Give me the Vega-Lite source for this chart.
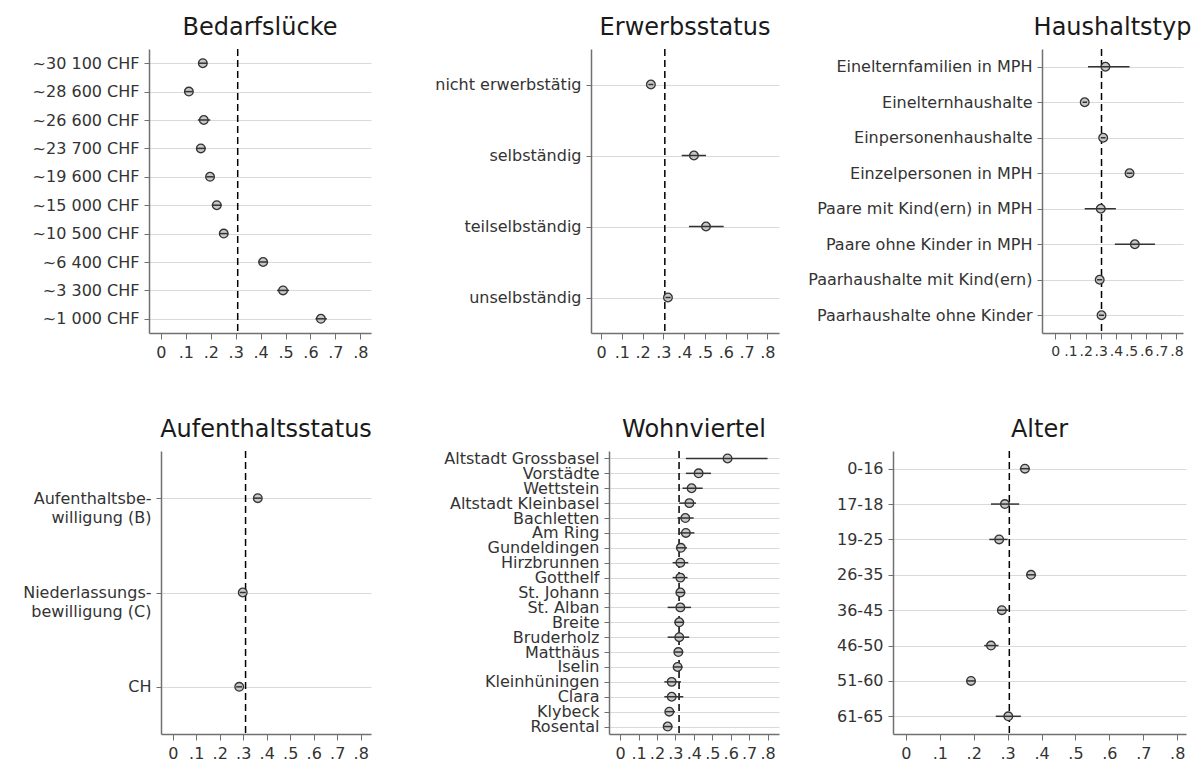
{
  "$schema": "https://vega.github.io/schema/vega-lite/v6.json",
  "background": "white",
  "padding": {"left": 22, "top": 16, "right": 0, "bottom": 0},
  "datasets": {
    "bedarf": [
      {"cat": "~30 100 CHF", "est": 0.168, "lo": 0.15, "hi": 0.186},
      {"cat": "~28 600 CHF", "est": 0.112, "lo": 0.096, "hi": 0.128},
      {"cat": "~26 600 CHF", "est": 0.172, "lo": 0.148, "hi": 0.198},
      {"cat": "~23 700 CHF", "est": 0.16, "lo": 0.142, "hi": 0.18},
      {"cat": "~19 600 CHF", "est": 0.197, "lo": 0.182, "hi": 0.212},
      {"cat": "~15 000 CHF", "est": 0.224, "lo": 0.204, "hi": 0.244},
      {"cat": "~10 500 CHF", "est": 0.252, "lo": 0.236, "hi": 0.27},
      {"cat": "~6 400 CHF", "est": 0.41, "lo": 0.392, "hi": 0.43},
      {"cat": "~3 300 CHF", "est": 0.49, "lo": 0.466, "hi": 0.514},
      {"cat": "~1 000 CHF", "est": 0.642, "lo": 0.62, "hi": 0.666}
    ],
    "erwerb": [
      {"cat": "nicht erwerbstätig", "est": 0.24, "lo": 0.228, "hi": 0.252},
      {"cat": "selbständig", "est": 0.447, "lo": 0.388, "hi": 0.505},
      {"cat": "teilselbständig", "est": 0.505, "lo": 0.423, "hi": 0.59},
      {"cat": "unselbständig", "est": 0.322, "lo": 0.31, "hi": 0.335}
    ],
    "haushalt": [
      {"cat": "Einelternfamilien in MPH", "est": 0.331, "lo": 0.216, "hi": 0.49},
      {"cat": "Einelternhaushalte", "est": 0.194, "lo": 0.18, "hi": 0.21},
      {"cat": "Einpersonenhaushalte", "est": 0.316, "lo": 0.3, "hi": 0.332},
      {"cat": "Einzelpersonen in MPH", "est": 0.49, "lo": 0.47, "hi": 0.51},
      {"cat": "Paare mit Kind(ern) in MPH", "est": 0.3, "lo": 0.194, "hi": 0.4},
      {"cat": "Paare ohne Kinder in MPH", "est": 0.525, "lo": 0.393, "hi": 0.658},
      {"cat": "Paarhaushalte mit Kind(ern)", "est": 0.293, "lo": 0.275, "hi": 0.31},
      {"cat": "Paarhaushalte ohne Kinder", "est": 0.305, "lo": 0.287, "hi": 0.322}
    ],
    "aufenthalt": [
      {"cat": "Aufenthaltsbewilligung (B)", "est": 0.362, "lo": 0.345, "hi": 0.378},
      {"cat": "Niederlassungsbewilligung (C)", "est": 0.298, "lo": 0.285, "hi": 0.311},
      {"cat": "CH", "est": 0.283, "lo": 0.27, "hi": 0.295}
    ],
    "wohn": [
      {"cat": "Altstadt Grossbasel", "est": 0.583, "lo": 0.357, "hi": 0.8},
      {"cat": "Vorstädte", "est": 0.426, "lo": 0.357, "hi": 0.493},
      {"cat": "Wettstein", "est": 0.388, "lo": 0.339, "hi": 0.448},
      {"cat": "Altstadt Kleinbasel", "est": 0.376, "lo": 0.321, "hi": 0.412},
      {"cat": "Bachletten", "est": 0.354, "lo": 0.312, "hi": 0.399},
      {"cat": "Am Ring", "est": 0.357, "lo": 0.321, "hi": 0.403},
      {"cat": "Gundeldingen", "est": 0.33, "lo": 0.303, "hi": 0.363},
      {"cat": "Hirzbrunnen", "est": 0.327, "lo": 0.285, "hi": 0.37},
      {"cat": "Gotthelf", "est": 0.327, "lo": 0.285, "hi": 0.366},
      {"cat": "St. Johann", "est": 0.327, "lo": 0.303, "hi": 0.354},
      {"cat": "St. Alban", "est": 0.327, "lo": 0.258, "hi": 0.385},
      {"cat": "Breite", "est": 0.321, "lo": 0.294, "hi": 0.348},
      {"cat": "Bruderholz", "est": 0.321, "lo": 0.258, "hi": 0.375},
      {"cat": "Matthäus", "est": 0.316, "lo": 0.294, "hi": 0.343},
      {"cat": "Iselin", "est": 0.312, "lo": 0.29, "hi": 0.339},
      {"cat": "Kleinhüningen", "est": 0.28, "lo": 0.24, "hi": 0.33},
      {"cat": "Clara", "est": 0.28, "lo": 0.24, "hi": 0.343},
      {"cat": "Klybeck", "est": 0.267, "lo": 0.245, "hi": 0.298},
      {"cat": "Rosental", "est": 0.258, "lo": 0.237, "hi": 0.285}
    ],
    "alter": [
      {"cat": "0-16", "est": 0.351, "lo": 0.336, "hi": 0.366},
      {"cat": "17-18", "est": 0.292, "lo": 0.251, "hi": 0.334},
      {"cat": "19-25", "est": 0.275, "lo": 0.246, "hi": 0.3},
      {"cat": "26-35", "est": 0.369, "lo": 0.355, "hi": 0.384},
      {"cat": "36-45", "est": 0.283, "lo": 0.269, "hi": 0.302},
      {"cat": "46-50", "est": 0.251, "lo": 0.231, "hi": 0.273},
      {"cat": "51-60", "est": 0.192, "lo": 0.18, "hi": 0.205},
      {"cat": "61-65", "est": 0.302, "lo": 0.265, "hi": 0.339}
    ]
  },
  "vconcat": [
    {
      "hconcat": [
        {
          "width": 222, "height": 284,
          "title": "Bedarfslücke",
          "layer": [
            {"data": {"values": [{}]}, "mark": {"type": "rule", "color": "#000", "strokeDash": [7, 4], "strokeWidth": 1.5},
             "encoding": {"x": {"datum": 0.308, "type": "quantitative", "title": null, "scale": {"domain": [-0.048, 0.843], "nice": false, "zero": false}, "axis": {"values": [0, 0.1, 0.2, 0.3, 0.4, 0.5, 0.6, 0.7, 0.8]}}}},
            {"data": {"name": "bedarf"}, "mark": {"type": "circle", "size": 75, "color": "#c8c8c8", "stroke": "#333", "strokeWidth": 1.3, "opacity": 1},
             "encoding": {
               "y": {"field": "cat", "type": "nominal", "sort": null, "title": null, "scale": {"type": "point", "padding": 0.5}},
               "x": {"field": "est", "type": "quantitative", "title": null, "scale": {"domain": [-0.048, 0.843], "nice": false, "zero": false}, "axis": {"values": [0, 0.1, 0.2, 0.3, 0.4, 0.5, 0.6, 0.7, 0.8]}}}},
            {"data": {"name": "bedarf"}, "mark": {"type": "rule", "color": "#333", "strokeWidth": 1.5},
             "encoding": {"y": {"field": "cat", "type": "nominal", "sort": null, "title": null},
                          "x": {"field": "lo", "type": "quantitative", "title": null, "axis": {"values": [0, 0.1, 0.2, 0.3, 0.4, 0.5, 0.6, 0.7, 0.8]}}, "x2": {"field": "hi"}}}
          ]
        },
        {
          "hconcat": [
            {
              "width": 188, "height": 284,
              "title": "Erwerbsstatus",
              "layer": [
                {"data": {"values": [{}]}, "mark": {"type": "rule", "color": "#000", "strokeDash": [7, 4], "strokeWidth": 1.5},
                 "encoding": {"x": {"datum": 0.307, "type": "quantitative", "title": null, "scale": {"domain": [-0.048, 0.856], "nice": false, "zero": false}, "axis": {"values": [0, 0.1, 0.2, 0.3, 0.4, 0.5, 0.6, 0.7, 0.8]}}}},
                {"data": {"name": "erwerb"}, "mark": {"type": "circle", "size": 75, "color": "#c8c8c8", "stroke": "#333", "strokeWidth": 1.3, "opacity": 1},
                 "encoding": {
                   "y": {"field": "cat", "type": "nominal", "sort": null, "title": null, "scale": {"type": "point", "padding": 0.5}},
                   "x": {"field": "est", "type": "quantitative", "title": null, "scale": {"domain": [-0.048, 0.856], "nice": false, "zero": false}, "axis": {"values": [0, 0.1, 0.2, 0.3, 0.4, 0.5, 0.6, 0.7, 0.8]}}}},
                {"data": {"name": "erwerb"}, "mark": {"type": "rule", "color": "#333", "strokeWidth": 1.5},
                 "encoding": {"y": {"field": "cat", "type": "nominal", "sort": null, "title": null},
                              "x": {"field": "lo", "type": "quantitative", "title": null, "axis": {"values": [0, 0.1, 0.2, 0.3, 0.4, 0.5, 0.6, 0.7, 0.8]}}, "x2": {"field": "hi"}}}
              ]
            },
            {
              "width": 141, "height": 284,
              "title": "Haushaltstyp",
              "layer": [
                {"data": {"values": [{}]}, "mark": {"type": "rule", "color": "#000", "strokeDash": [7, 4], "strokeWidth": 1.5},
                 "encoding": {"x": {"datum": 0.305, "type": "quantitative", "title": null, "scale": {"domain": [-0.088, 0.843], "nice": false, "zero": false}, "axis": {"values": [0, 0.1, 0.2, 0.3, 0.4, 0.5, 0.6, 0.7, 0.8], "labelFontSize": 14}}}},
                {"data": {"name": "haushalt"}, "mark": {"type": "circle", "size": 75, "color": "#c8c8c8", "stroke": "#333", "strokeWidth": 1.3, "opacity": 1},
                 "encoding": {
                   "y": {"field": "cat", "type": "nominal", "sort": null, "title": null, "scale": {"type": "point", "padding": 0.5}},
                   "x": {"field": "est", "type": "quantitative", "title": null, "scale": {"domain": [-0.088, 0.843], "nice": false, "zero": false}, "axis": {"values": [0, 0.1, 0.2, 0.3, 0.4, 0.5, 0.6, 0.7, 0.8], "labelFontSize": 14}}}},
                {"data": {"name": "haushalt"}, "mark": {"type": "rule", "color": "#333", "strokeWidth": 1.5},
                 "encoding": {"y": {"field": "cat", "type": "nominal", "sort": null, "title": null},
                              "x": {"field": "lo", "type": "quantitative", "title": null, "axis": {"values": [0, 0.1, 0.2, 0.3, 0.4, 0.5, 0.6, 0.7, 0.8], "labelFontSize": 14}}, "x2": {"field": "hi"}}}
              ]
            }
          ],
          "spacing": 263,
          "bounds": "flush"
        }
      ],
      "spacing": 220,
      "bounds": "flush"
    },
    {
      "hconcat": [
        {"width": 1, "height": 10, "data": {"values": [{}]}, "mark": {"type": "text"}, "encoding": {"text": {"value": ""}}},
        {
          "hconcat": [
            {
              "width": 210, "height": 283,
              "title": "Aufenthaltsstatus",
              "layer": [
                {"data": {"values": [{}]}, "mark": {"type": "rule", "color": "#000", "strokeDash": [7, 4], "strokeWidth": 1.5},
                 "encoding": {"x": {"datum": 0.31, "type": "quantitative", "title": null, "scale": {"domain": [-0.05, 0.844], "nice": false, "zero": false}, "axis": {"values": [0, 0.1, 0.2, 0.3, 0.4, 0.5, 0.6, 0.7, 0.8]}}}},
                {"data": {"name": "aufenthalt"}, "mark": {"type": "circle", "size": 75, "color": "#c8c8c8", "stroke": "#333", "strokeWidth": 1.3, "opacity": 1},
                 "encoding": {
                   "y": {"field": "cat", "type": "nominal", "sort": null, "title": null, "scale": {"type": "point", "padding": 0.5},
                         "axis": {"labelExpr": "datum.value == 'Aufenthaltsbewilligung (B)' ? ['Aufenthaltsbe-', 'willigung (B)'] : datum.value == 'Niederlassungsbewilligung (C)' ? ['Niederlassungs-', 'bewilligung (C)'] : datum.label", "labelLineHeight": 19}},
                   "x": {"field": "est", "type": "quantitative", "title": null, "scale": {"domain": [-0.05, 0.844], "nice": false, "zero": false}, "axis": {"values": [0, 0.1, 0.2, 0.3, 0.4, 0.5, 0.6, 0.7, 0.8]}}}},
                {"data": {"name": "aufenthalt"}, "mark": {"type": "rule", "color": "#333", "strokeWidth": 1.5},
                 "encoding": {"y": {"field": "cat", "type": "nominal", "sort": null, "title": null},
                              "x": {"field": "lo", "type": "quantitative", "title": null, "axis": {"values": [0, 0.1, 0.2, 0.3, 0.4, 0.5, 0.6, 0.7, 0.8]}}, "x2": {"field": "hi"}}}
              ]
            },
            {
              "hconcat": [
                {
                  "width": 170, "height": 283,
                  "title": "Wohnviertel",
                  "layer": [
                    {"data": {"values": [{}]}, "mark": {"type": "rule", "color": "#000", "strokeDash": [7, 4], "strokeWidth": 1.5},
                     "encoding": {"x": {"datum": 0.32, "type": "quantitative", "title": null, "scale": {"domain": [-0.06, 0.862], "nice": false, "zero": false}, "axis": {"values": [0, 0.1, 0.2, 0.3, 0.4, 0.5, 0.6, 0.7, 0.8]}}}},
                    {"data": {"name": "wohn"}, "mark": {"type": "circle", "size": 75, "color": "#c8c8c8", "stroke": "#333", "strokeWidth": 1.3, "opacity": 1},
                     "encoding": {
                       "y": {"field": "cat", "type": "nominal", "sort": null, "title": null, "scale": {"type": "point", "padding": 0.5}},
                       "x": {"field": "est", "type": "quantitative", "title": null, "scale": {"domain": [-0.06, 0.862], "nice": false, "zero": false}, "axis": {"values": [0, 0.1, 0.2, 0.3, 0.4, 0.5, 0.6, 0.7, 0.8]}}}},
                    {"data": {"name": "wohn"}, "mark": {"type": "rule", "color": "#333", "strokeWidth": 1.5},
                     "encoding": {"y": {"field": "cat", "type": "nominal", "sort": null, "title": null},
                                  "x": {"field": "lo", "type": "quantitative", "title": null, "axis": {"values": [0, 0.1, 0.2, 0.3, 0.4, 0.5, 0.6, 0.7, 0.8]}}, "x2": {"field": "hi"}}}
                  ]
                },
                {
                  "width": 293, "height": 283,
                  "title": "Alter",
                  "layer": [
                    {"data": {"values": [{}]}, "mark": {"type": "rule", "color": "#000", "strokeDash": [7, 4], "strokeWidth": 1.5},
                     "encoding": {"x": {"datum": 0.305, "type": "quantitative", "title": null, "scale": {"domain": [-0.038, 0.826], "nice": false, "zero": false}, "axis": {"values": [0, 0.1, 0.2, 0.3, 0.4, 0.5, 0.6, 0.7, 0.8]}}}},
                    {"data": {"name": "alter"}, "mark": {"type": "circle", "size": 75, "color": "#c8c8c8", "stroke": "#333", "strokeWidth": 1.3, "opacity": 1},
                     "encoding": {
                       "y": {"field": "cat", "type": "nominal", "sort": null, "title": null, "scale": {"type": "point", "padding": 0.5}},
                       "x": {"field": "est", "type": "quantitative", "title": null, "scale": {"domain": [-0.038, 0.826], "nice": false, "zero": false}, "axis": {"values": [0, 0.1, 0.2, 0.3, 0.4, 0.5, 0.6, 0.7, 0.8]}}}},
                    {"data": {"name": "alter"}, "mark": {"type": "rule", "color": "#333", "strokeWidth": 1.5},
                     "encoding": {"y": {"field": "cat", "type": "nominal", "sort": null, "title": null},
                                  "x": {"field": "lo", "type": "quantitative", "title": null, "axis": {"values": [0, 0.1, 0.2, 0.3, 0.4, 0.5, 0.6, 0.7, 0.8]}}, "x2": {"field": "hi"}}}
                  ]
                }
              ],
              "spacing": 114,
              "bounds": "flush"
            }
          ],
          "spacing": 238,
          "bounds": "flush"
        }
      ],
      "spacing": 11,
      "bounds": "flush"
    }
  ],
  "spacing": 402,
  "bounds": "flush",
  "config": {
    "font": "DejaVu Sans",
    "view": {"stroke": null},
    "axis": {"domainColor": "#707070", "domainWidth": 1.5, "tickColor": "#707070", "tickSize": 6, "labelColor": "#333333", "labelFont": "DejaVu Sans", "labelFontSize": 16, "labelPadding": 5},
    "axisX": {"grid": false, "labelFlush": false, "labelOverlap": false, "labelExpr": "datum.value == 0 ? '0' : '.' + format(datum.value * 10, '.0f')"},
    "axisY": {"grid": true, "gridColor": "#dadada", "labelOverlap": false, "labelLimit": 300, "tickSize": 5},
    "title": {"fontSize": 24, "fontWeight": "normal", "font": "DejaVu Sans", "color": "#1a1a1a", "offset": 8}
  }
}
